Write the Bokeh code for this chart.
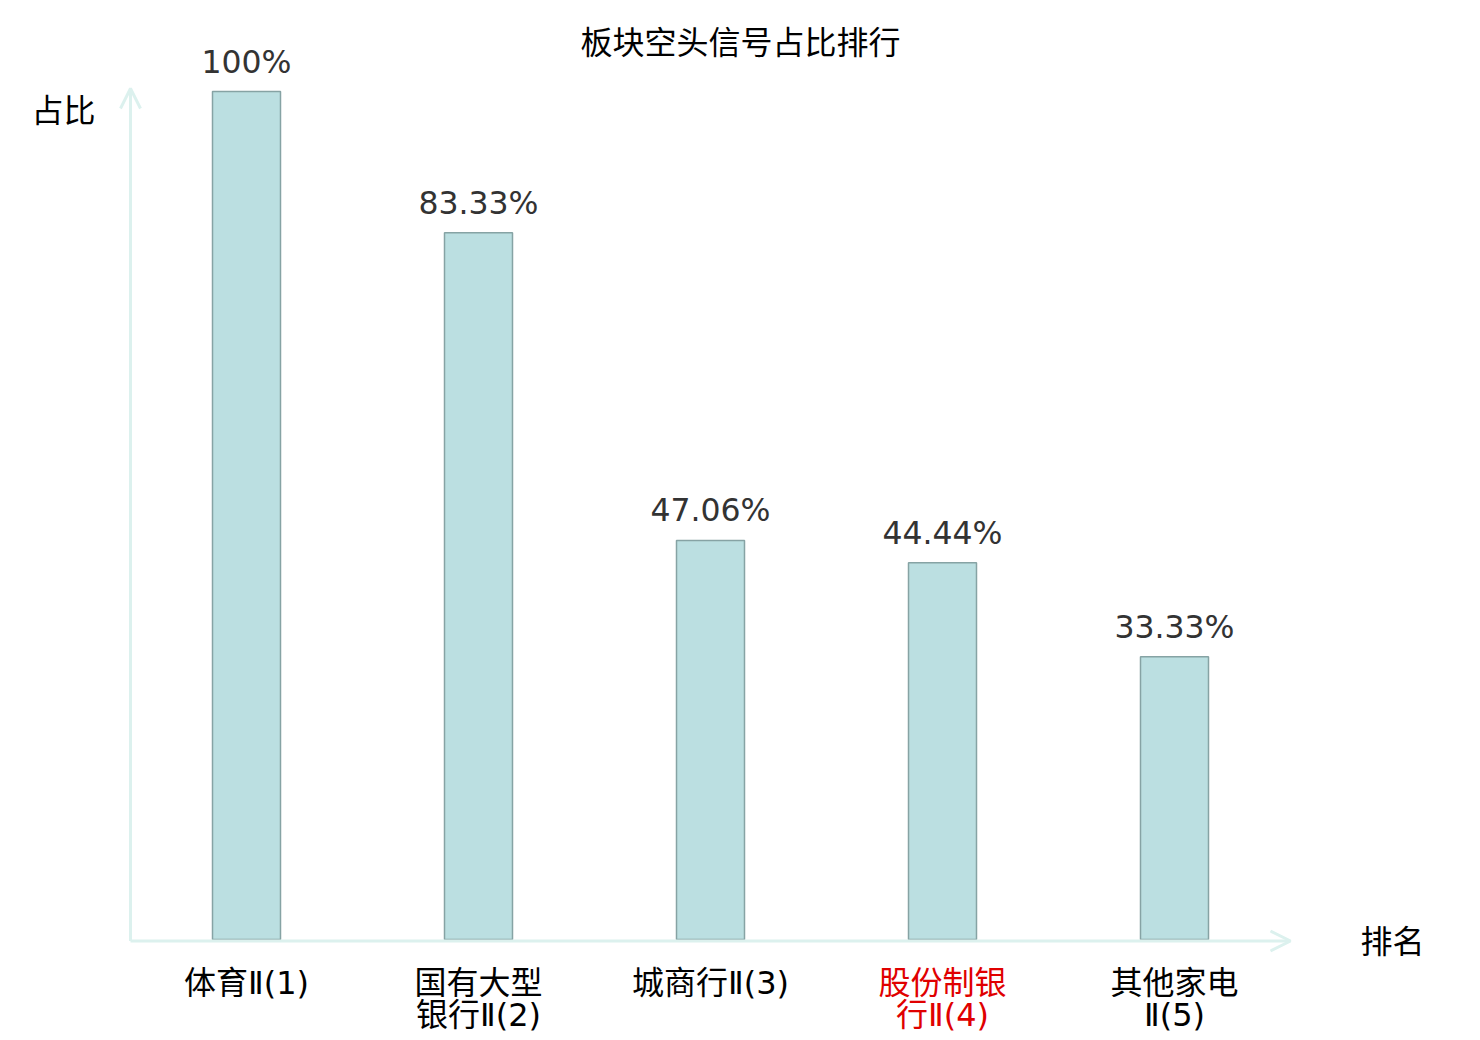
from bokeh.plotting import figure
from bokeh.models import Range1d, Arrow, OpenHead
from bokeh.core.properties import value
from bokeh.embed import file_html
from bokeh.resources import INLINE

# ---- data ----
categories = ["体育Ⅱ(1)", "国有大型\n银行Ⅱ(2)", "城商行Ⅱ(3)", "股份制银\n行Ⅱ(4)", "其他家电\nⅡ(5)"]
shares = [100.0, 83.33, 47.06, 44.44, 33.33]
share_labels = ["100%", "83.33%", "47.06%", "44.44%", "33.33%"]
label_colors = ["#000000", "#000000", "#000000", "#e00000", "#000000"]
title_text = "板块空头信号占比排行"
y_name = "占比"
x_name = "排名"

# ---- layout (page pixel geometry) ----
ORG = 0
W, H = 1472, 1034
X0_PX, UNIT_X = 130.0, 232.0   # x=0 at page px 130, one category = 232 px
Y0_PX, UNIT_Y = 939.0, 8.48    # y=0 at page px 939, 1% = 8.48 px


def dx(px):
    return (px - X0_PX) / UNIT_X


def dy(py):
    return (Y0_PX - py) / UNIT_Y


p = figure(width=W, height=H, output_backend="svg", toolbar_location=None,
           x_axis_type=None, y_axis_type=None, min_border=0,
           x_range=Range1d(dx(ORG), dx(ORG + W)), y_range=Range1d(dy(ORG + H), dy(ORG)))
p.outline_line_color = None
p.grid.visible = False
p.background_fill_color = "white"
p.border_fill_color = "white"

axis_color = "#dcf1ee"
n = len(categories)
xc = [i + 0.5 for i in range(n)]

# axes with arrows
p.add_layout(Arrow(end=OpenHead(size=20, line_color=axis_color, line_width=3),
                   x_start=0, y_start=dy(940.5), x_end=dx(1290), y_end=dy(940.5),
                   line_color=axis_color, line_width=3))
p.add_layout(Arrow(end=OpenHead(size=20, line_color=axis_color, line_width=3),
                   x_start=0, y_start=dy(940.5), x_end=0, y_end=dy(88),
                   line_color=axis_color, line_width=3))

# bars
p.vbar(x=xc, top=shares, bottom=0, width=68 / UNIT_X,
       fill_color="#bbdfe1", line_color="#86a3a4", line_width=1.5)

# value labels
p.text(x=xc, y=shares, text=share_labels, y_offset=-30,
       text_align="center", text_baseline="alphabetic",
       text_font=value("DejaVu Sans"), text_font_size="31.5px", text_color="#333333")

# category labels (split on line breaks)
line1 = [c.split("\n")[0] for c in categories]
line2 = [c.split("\n")[1] if "\n" in c else "" for c in categories]
cjk = value("Noto Sans CJK SC")
mixed = value("DejaVu Sans, Noto Sans CJK SC")
p.text(x=xc, y=[0] * n, text=line1, y_offset=43, text_align="center",
       text_baseline="middle", text_font=mixed, text_font_size="32px",
       text_color=label_colors)
p.text(x=xc, y=[0] * n, text=line2, y_offset=75, text_align="center",
       text_baseline="middle", text_font=mixed, text_font_size="32px",
       text_color=label_colors)

# axis names and title
p.text(x=[dx(63)], y=[dy(107)], text=[y_name], text_align="center",
       text_baseline="middle", text_font=cjk, text_font_size="32px", text_color="#000000")
p.text(x=[dx(1392)], y=[dy(938)], text=[x_name], text_align="center",
       text_baseline="middle", text_font=cjk, text_font_size="32px", text_color="#000000")
p.text(x=[dx(740)], y=[dy(39)], text=[title_text], text_align="center",
       text_baseline="middle", text_font=cjk, text_font_size="32px", text_color="#000000")

open("out.html", "w").write(file_html(p, INLINE))
